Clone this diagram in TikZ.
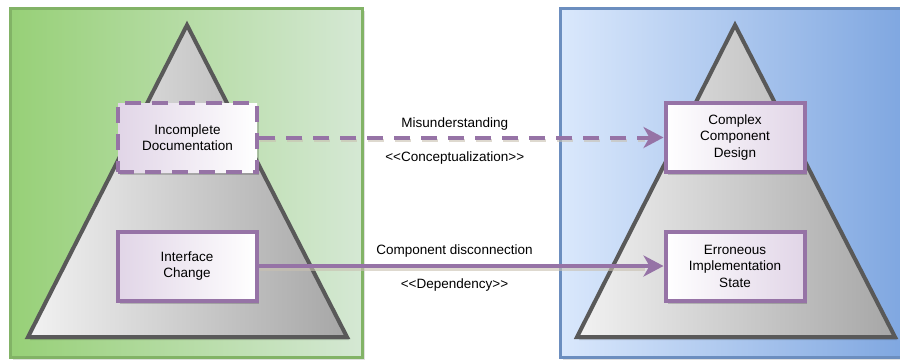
\documentclass[tikz,border=0pt]{standalone}
\usepackage{fontspec}
\setmainfont{Liberation Sans}[Ligatures=TeXOff]
\usetikzlibrary{arrows.meta,shadows}
\definecolor{greenL}{HTML}{97D077}
\definecolor{greenR}{HTML}{D5E8D4}
\definecolor{greenB}{HTML}{82B366}
\definecolor{blueL}{HTML}{DAE8FC}
\definecolor{blueR}{HTML}{7EA6E0}
\definecolor{blueB}{HTML}{6C8EBF}
\definecolor{purpB}{HTML}{9673A6}
\definecolor{purpF}{HTML}{E1D5E7}
\definecolor{triB}{HTML}{595959}
\definecolor{triL}{HTML}{F2F2F2}
\definecolor{triR}{HTML}{A6A6A6}
\definecolor{shadC}{HTML}{C8C0B0}
\begin{document}
\begin{tikzpicture}[x=1pt,y=-1pt,
  txt/.style={font=\fontsize{13.5}{16.5}\selectfont, align=center, text=black},
  boxnode/.style={txt, draw=purpB, line width=4pt, minimum width=139pt, minimum height=69pt,
     inner sep=0pt, drop shadow={shadow xshift=2pt, shadow yshift=-3pt, opacity=0.18, fill=black}},
  lbox/.style={boxnode, left color=purpF, right color=white},
  rbox/.style={boxnode, left color=white, right color=purpF},
  dashbox/.style={dash pattern=on 16pt off 11pt},
  conn/.style={draw=purpB, line width=4pt,
     -{Stealth[length=20pt, width=21pt, inset=6pt]}},
  shadline/.style={draw=shadC, opacity=0.6, line width=3pt},
  trishadow/.style={fill=black, opacity=0.16},
  tri/.style={draw=triB, line width=4pt, line join=miter, left color=triL, right color=triR},
  lab/.style={txt}
]
\useasboundingbox (0,0) rectangle (900,360);
\fill[white] (0,0) rectangle (900,360);
\clip (0,0) rectangle (900,360);
% panel shadows
\fill[black, opacity=0.12] (13,11) rectangle (365,360);
\fill[black, opacity=0.12] (563,11) rectangle (912,360);
% green panel
\shade[left color=greenL, right color=greenR] (10,8) rectangle (362,357);
\draw[greenB, line width=3pt] (10,8) rectangle (362,357);
% blue panel
\shade[left color=blueL, right color=blueR] (560,8) rectangle (908,357);
\draw[blueB, line width=3pt] (560,8) rectangle (908,357);
% triangles
\fill[trishadow] (189,28) -- (30,340) -- (349,340) -- cycle;
\draw[tri] (187,25) -- (28,337) -- (347,337) -- cycle;
\fill[trishadow] (737,28) -- (579,340) -- (897,340) -- cycle;
\draw[tri] (735,25) -- (577,337) -- (895,337) -- cycle;
% boxes
\node[lbox, dashbox] (incdoc) at (187.5,137.5) {Incomplete\\Documentation};
\node[lbox] (ifc) at (187,266) {Interface\\Change};
\node[rbox] (ccd) at (735,137.5) {Complex\\Component\\Design};
\node[rbox] (eis) at (735,266) {Erroneous\\Implementation\\State};
% connector shadows
\draw[shadline, dashbox] ([shift={(1,3)}]incdoc.east) -- ([shift={(-19,3)}]ccd.west);
\draw[shadline] ([shift={(1,3)}]ifc.east) -- ([shift={(-19,3)}]eis.west);
% connectors
\draw[conn, dashbox] (incdoc.east) -- (ccd.west)
  node[lab, pos=0.484, yshift=13pt] (m1) {Misunderstanding}
  node[lab, pos=0.484, yshift=-21pt] (m2) {<<Conceptualization>>};
\draw[conn] (ifc.east) -- (eis.west)
  node[lab, pos=0.484, yshift=15pt] (m3) {Component disconnection}
  node[lab, pos=0.484, yshift=-19pt] (m4) {<<Dependency>>};
\end{tikzpicture}
\end{document}
